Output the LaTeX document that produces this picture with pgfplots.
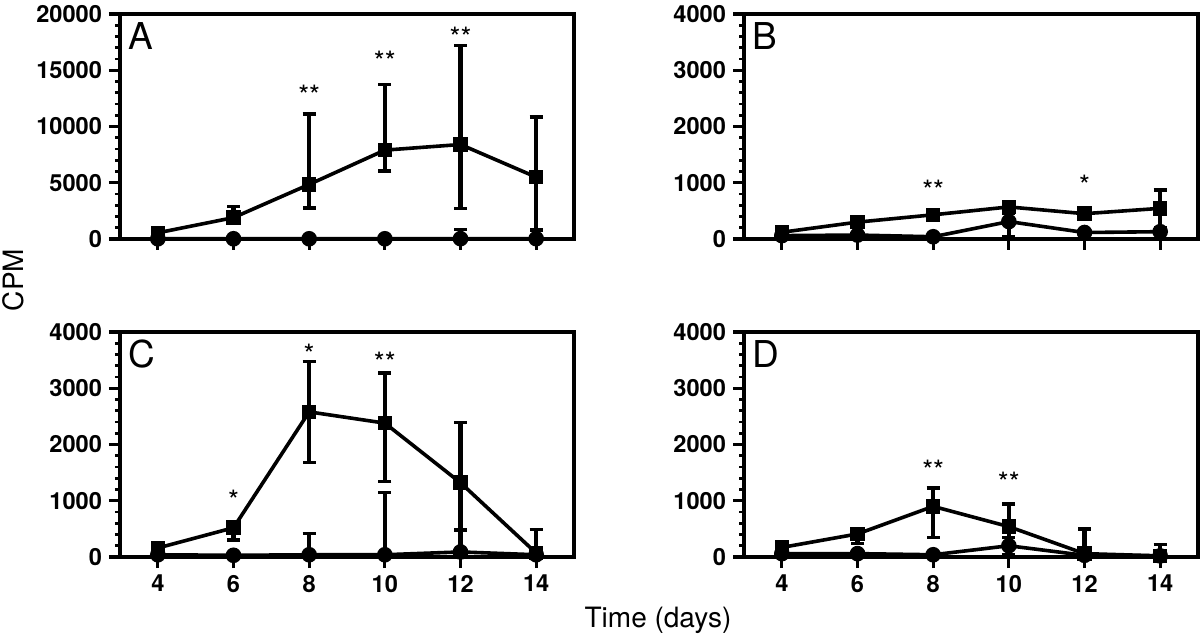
\documentclass[border=0pt]{standalone}
\usepackage{pgfplots}
\pgfplotsset{compat=1.18}
\usepackage{pgfplotstable}
\usepackage{fontspec}
\setmainfont{TeX Gyre Heros}

% Panel A
\pgfplotstableread{
x y ep em
4 550 350 250
6 1900 1000 300
8 4850 6250 2100
10 7900 5850 1850
12 8400 8800 5700
14 5500 5350 4700
}\Asq
\pgfplotstableread{
x y ep em
4 20 50 0
6 20 50 0
8 20 50 0
10 20 50 0
12 30 800 0
14 30 100 0
}\Aci
% Panel B
\pgfplotstableread{
x y ep em
4 120 40 40
6 300 40 40
8 430 60 60
10 570 80 80
12 450 40 40
14 545 325 350
}\Bsq
\pgfplotstableread{
x y ep em
4 60 0 0
6 70 0 0
8 40 0 0
10 310 150 265
12 115 0 0
14 130 0 0
}\Bci
% Panel C
\pgfplotstableread{
x y ep em
4 160 60 60
6 520 80 220
8 2580 900 900
10 2380 890 1040
12 1320 1070 1320
14 70 100 70
}\Csq
\pgfplotstableread{
x y ep em
4 40 0 0
6 30 0 0
8 40 380 0
10 40 1110 0
12 90 390 0
14 40 450 0
}\Cci
% Panel D
\pgfplotstableread{
x y ep em
4 170 50 50
6 410 60 170
8 900 325 555
10 540 400 300
12 60 440 60
14 20 200 20
}\Dsq
\pgfplotstableread{
x y ep em
4 60 0 0
6 60 0 0
8 40 0 0
10 200 150 160
12 30 0 0
14 20 0 0
}\Dci

\pgfplotsset{
  panel/.style={
    scale only axis, width=227pt, height=112.5pt,
    xmin=3, xmax=15, ymin=0, clip=false,
    axis line style={line width=2pt},
    xtick={4,6,...,14},
    tick align=outside, xtick pos=bottom, ytick pos=left,
    major tick length=5.5pt, minor tick length=2.5pt,
    major tick style={line width=1.6pt, black},
    minor tick style={line width=1.3pt, black},
    minor y tick num=4,
    scaled y ticks=false,
    tick label style={font=\fontsize{11.8}{13}\selectfont\bfseries},
    /pgf/number format/1000 sep={},
    /pgf/number format/assume math mode=true,
  },
  sq/.style={black, line width=1.8pt, mark=square*, mark size=2.75pt,
    error bars/.cd, y dir=both, y explicit, error mark=-,
    error mark options={rotate=90, mark size=3.25pt, line width=1.7pt, black}},
  ci/.style={black, line width=1.8pt, mark=*, mark size=3pt,
    error bars/.cd, y dir=both, y explicit, error mark=-,
    error mark options={rotate=90, mark size=3.25pt, line width=1.7pt, black}},
  bar/.style={black, line width=2.2pt, no marks, forget plot,
    quiver={u=0, v=\thisrow{ep}+\thisrow{em}, every arrow/.append style={line width=2.2pt, black}}},
}
\tikzset{
  letter/.style={anchor=base west, inner sep=0pt, font=\fontsize{18.5}{20}\selectfont},
  star/.style={anchor=north, inner sep=0pt, font=\fontsize{14}{14}\selectfont},
}
\newcommand\series[2]{%
  \addplot[bar] table[x=x, y expr=\thisrow{y}-\thisrow{em}] {#1};
  \addplot[bar] table[x=x, y expr=\thisrow{y}-\thisrow{em}] {#2};
  \addplot[ci] table[x=x, y=y, y error plus=ep, y error minus=em] {#1};
  \addplot[sq] table[x=x, y=y, y error plus=ep, y error minus=em] {#2};
}

\begin{document}
\begin{tikzpicture}
% A
\begin{axis}[panel, at={(60pt,-7pt)}, anchor=north west,
  ymax=20000, ytick={0,5000,...,20000}, xticklabels={}]
\series{\Aci}{\Asq}
\node[letter] at (axis description cs:0.017,0.84) {A};
\node[star] at (axis cs:8,13750) {**};
\node[star] at (axis cs:10,16710) {**};
\node[star] at (axis cs:12,18870) {**};
\end{axis}
% B
\begin{axis}[panel, at={(372pt,-7pt)}, anchor=north west,
  ymax=4000, ytick={0,1000,...,4000}, xticklabels={}]
\series{\Bci}{\Bsq}
\node[letter] at (axis description cs:0.017,0.84) {B};
\node[star] at (axis cs:8,1050) {**};
\node[star] at (axis cs:12,1138) {*};
\end{axis}
% C
\begin{axis}[panel, at={(60pt,-166pt)}, anchor=north west,
  ymax=4000, ytick={0,1000,...,4000}]
\series{\Cci}{\Csq}
\node[letter] at (axis description cs:0.017,0.84) {C};
\node[star] at (axis cs:6,1191) {*};
\node[star] at (axis cs:8,3787) {*};
\node[star] at (axis cs:10,3650) {**};
\end{axis}
% D
\begin{axis}[panel, at={(372pt,-166pt)}, anchor=north west,
  ymax=4000, ytick={0,1000,...,4000}]
\series{\Dci}{\Dsq}
\node[letter] at (axis description cs:0.017,0.84) {D};
\node[star] at (axis cs:8,1724) {**};
\node[star] at (axis cs:10,1517) {**};
\end{axis}
\node[rotate=90, font=\fontsize{14}{16}\selectfont] at (6.5pt,-140pt) {CPM};
\node[font=\fontsize{14}{16}\selectfont] at (329pt,-310pt) {Time (days)};
\pgfresetboundingbox
\path[use as bounding box] (0,0) rectangle (600pt,-318pt);
\end{tikzpicture}
\end{document}
